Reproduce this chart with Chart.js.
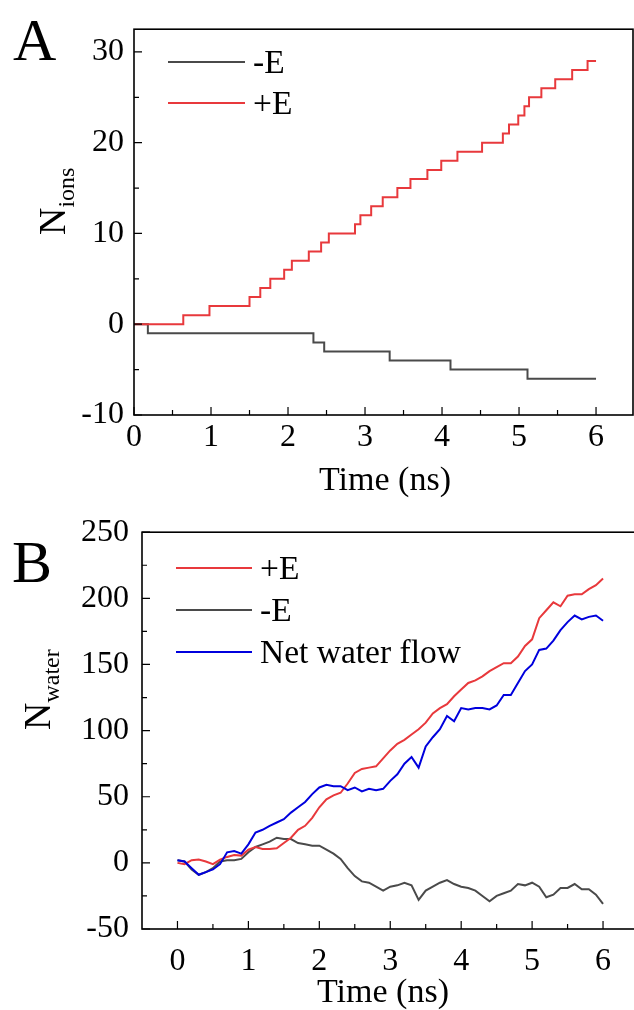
<!DOCTYPE html>
<html>
<head>
<meta charset="utf-8">
<script src="https://cdn.jsdelivr.net/npm/chart.js@4"></script>
<style>
html, body { margin: 0; padding: 0; background: #fff; overflow: hidden; }
#wrap { position: relative; width: 634px; height: 1010px; overflow: hidden; }
canvas { position: absolute; left: 0; }
</style>
</head>
<body>
<div id="wrap">
  <canvas id="chartA" width="634" height="500" style="top:0px"></canvas>
  <canvas id="chartB" width="650" height="510" style="top:500px"></canvas>
</div>
<script>
// ---- panel A: ion count, step times (ns) and count after each step
var stepTimesMinus = [0, 0.18, 2.33, 2.47, 3.32, 4.11, 5.11, 6.0];
var ionsMinus = [0, -1, -2, -3, -4, -5, -6, -6];
var stepTimesPlus = [0, 0.64, 0.98, 1.50, 1.64, 1.77, 1.95, 2.05, 2.27, 2.43, 2.53,
    2.87, 2.94, 3.08, 3.23, 3.42, 3.59, 3.81, 3.99, 4.20, 4.52,
    4.79, 4.87, 4.99, 5.07, 5.13, 5.29, 5.47, 5.69, 5.89, 6.0];
var ionsPlus = [0, 1, 2, 3, 4, 5, 6, 7, 8, 9, 10,
    11, 12, 13, 14, 15, 16, 17, 18, 19, 20,
    21, 22, 23, 24, 25, 26, 27, 28, 29, 29];

// ---- panel B: water count, sampled every 0.1 ns
var timeB = [0, 0.1, 0.2, 0.3, 0.4, 0.5, 0.6, 0.7, 0.8, 0.9,
    1.0, 1.1, 1.2, 1.3, 1.4, 1.5, 1.6, 1.7, 1.8, 1.9,
    2.0, 2.1, 2.2, 2.3, 2.4, 2.5, 2.6, 2.7, 2.8, 2.9,
    3.0, 3.1, 3.2, 3.3, 3.4, 3.5, 3.6, 3.7, 3.8, 3.9,
    4.0, 4.1, 4.2, 4.3, 4.4, 4.5, 4.6, 4.7, 4.8, 4.9,
    5.0, 5.1, 5.2, 5.3, 5.4, 5.5, 5.6, 5.7, 5.8, 5.9, 6.0];
var waterPlus = [0, -1, 2, 2.5, 1, -1, 2.5, 4.5, 6, 5.5,
    10, 12, 10.5, 10.5, 11, 15, 19, 25, 28, 34,
    42, 48, 51, 53, 60, 68, 71, 72, 73, 79,
    85, 90, 93, 97, 101, 106, 113, 117, 120, 126,
    131, 136, 138, 141, 145, 148, 151, 151, 156, 164,
    169, 185, 191, 197, 194, 202, 203, 203, 207, 210, 215];
var waterMinus = [2, 1, -5, -9, -7, -4, 1, 2, 2, 3,
    8, 12, 14, 16, 19, 18, 18, 15, 14, 13,
    13, 10, 7, 3, -4, -10, -14, -15, -18, -21,
    -18, -17, -15, -17, -28, -21, -18, -15, -13, -16,
    -18, -19, -21, -25, -29, -25, -23, -21, -16, -17,
    -15, -18, -26, -24, -19, -19, -16, -20, -20, -24, -31];
var waterNet = [2, 1, -4, -9, -7, -5, -1, 8, 9, 7,
    14, 23, 25, 28, 30.5, 33, 38, 42, 46, 52,
    57, 59, 58, 58, 55, 57, 54, 56, 55, 56,
    62, 67, 75, 80, 72, 88, 95, 101, 111, 107,
    117, 116, 117, 117, 116, 119, 127, 127, 136, 145,
    150, 161, 162, 168, 176, 182, 187, 184, 186, 187, 183];

// axis ticks
var ticksAx = [0, 1, 2, 3, 4, 5, 6];
var minorAx = [0.5, 1.5, 2.5, 3.5, 4.5, 5.5];
var ticksAy = [-10, 0, 10, 20, 30];
var minorAy = [-5, 5, 15, 25];
var ticksBx = [0, 1, 2, 3, 4, 5, 6];
var minorBx = [0.5, 1.5, 2.5, 3.5, 4.5, 5.5];
var ticksBy = [-50, 0, 50, 100, 150, 200, 250];
var minorBy = [-25, 25, 75, 125, 175, 225];

var RED = '#e8393c', GRAY = '#4a4a4a', BLUE = '#0000dd';
var FONT = 'Liberation Serif';

function pts(xs, ys) {
    var out = [];
    for (var i = 0; i < xs.length; i++) out.push({x: xs[i], y: ys[i]});
    return out;
}

// frame, inward ticks, legend, axis titles and panel letter
var decor = {
    id: 'decor',
    afterDraw: function(chart, args, o) {
        var ctx = chart.ctx, a = chart.chartArea;
        var xs = chart.scales.x, ys = chart.scales.y;
        ctx.save();
        ctx.strokeStyle = '#000';
        ctx.lineWidth = 1.2;
        ctx.beginPath();
        o.xMajor.forEach(function(v) { var p = xs.getPixelForValue(v); ctx.moveTo(p, a.bottom); ctx.lineTo(p, a.bottom - 8); });
        o.xMinor.forEach(function(v) { var p = xs.getPixelForValue(v); ctx.moveTo(p, a.bottom); ctx.lineTo(p, a.bottom - 5); });
        o.yMajor.forEach(function(v) { var p = ys.getPixelForValue(v); ctx.moveTo(a.left, p); ctx.lineTo(a.left + 8, p); });
        o.yMinor.forEach(function(v) { var p = ys.getPixelForValue(v); ctx.moveTo(a.left, p); ctx.lineTo(a.left + 5, p); });
        ctx.stroke();
        ctx.lineWidth = 1.6;
        ctx.strokeRect(a.left, a.top, a.right - a.left, a.bottom - a.top);

        // legend
        var ds = chart.data.datasets;
        ctx.font = '33.5px "' + FONT + '"';
        ctx.textAlign = 'left';
        ctx.textBaseline = 'alphabetic';
        for (var i = 0; i < ds.length; i++) {
            var ly = o.legend.y[i];
            ctx.strokeStyle = ds[i].borderColor;
            ctx.lineWidth = 2;
            ctx.beginPath();
            ctx.moveTo(o.legend.x1, ly);
            ctx.lineTo(o.legend.x2, ly);
            ctx.stroke();
            ctx.fillStyle = '#000';
            ctx.fillText(ds[i].label, o.legend.tx, ly + 11);
        }

        // x title
        ctx.font = '34px "' + FONT + '"';
        ctx.textAlign = 'center';
        ctx.fillText('Time (ns)', o.xTitle.x, o.xTitle.y);

        // y title with subscript
        ctx.save();
        ctx.translate(o.yTitle.x, o.yTitle.y);
        ctx.rotate(-Math.PI / 2);
        ctx.textAlign = 'left';
        ctx.font = '38px "' + FONT + '"';
        ctx.fillText('N', 0, 0);
        var w = ctx.measureText('N').width;
        ctx.font = '24px "' + FONT + '"';
        ctx.fillText(o.yTitle.sub, w, 9);
        ctx.restore();

        // panel letter
        ctx.font = '60px "' + FONT + '"';
        ctx.textAlign = 'left';
        ctx.fillText(o.letter.text, o.letter.x, o.letter.y);
        ctx.restore();
    }
};

function fixTicks(list) {
    return function(scale) { scale.ticks = list.map(function(v) { return {value: v}; }); };
}

function makeOptions(cfg) {
    return {
        responsive: false,
        animation: false,
        layout: { padding: { top: cfg.padTop, right: cfg.padRight, left: 0, bottom: 0 } },
        plugins: {
            legend: { display: false },
            tooltip: { enabled: false },
            decor: cfg.decor
        },
        elements: { point: { radius: 0 }, line: { tension: 0 } },
        scales: {
            x: {
                type: 'linear', min: cfg.xMin, max: cfg.xMax,
                grid: { display: false, drawTicks: false },
                border: { display: false },
                afterBuildTicks: fixTicks(cfg.xTicks),
                afterFit: function(s) { s.height = cfg.xHeight; },
                ticks: { color: '#000', padding: cfg.xPad, maxRotation: 0, font: { family: FONT, size: 32 } }
            },
            y: {
                type: 'linear', min: cfg.yMin, max: cfg.yMax,
                grid: { display: false, drawTicks: false },
                border: { display: false },
                afterBuildTicks: fixTicks(cfg.yTicks),
                afterFit: function(s) { s.width = cfg.yWidth; },
                ticks: { color: '#000', padding: cfg.yPad, font: { family: FONT, size: 32 } }
            }
        }
    };
}

new Chart(document.getElementById('chartA'), {
    type: 'line',
    data: {
        datasets: [
            { label: '-E', data: pts(stepTimesMinus, ionsMinus), borderColor: GRAY, borderWidth: 2, stepped: true, order: 2 },
            { label: '+E', data: pts(stepTimesPlus, ionsPlus), borderColor: RED, borderWidth: 2, stepped: true, order: 1 }
        ]
    },
    options: makeOptions({
        padTop: 13, padRight: 1, xHeight: 85, yWidth: 134,
        xMin: 0, xMax: 6.48, yMin: -10, yMax: 32.5,
        xTicks: ticksAx, yTicks: ticksAy, xPad: 3, yPad: 10,
        decor: {
            xMajor: ticksAx, xMinor: minorAx, yMajor: ticksAy, yMinor: minorAy,
            legend: { x1: 168, x2: 245, tx: 253, y: [62, 103] },
            xTitle: { x: 385, y: 490 },
            yTitle: { x: 65, y: 235, sub: 'ions' },
            letter: { text: 'A', x: 13, y: 60 }
        }
    }),
    plugins: [decor]
});

new Chart(document.getElementById('chartB'), {
    type: 'line',
    data: {
        datasets: [
            { label: '+E', data: pts(timeB, waterPlus), borderColor: RED, borderWidth: 2, order: 2 },
            { label: '-E', data: pts(timeB, waterMinus), borderColor: GRAY, borderWidth: 2, order: 3 },
            { label: 'Net water flow', data: pts(timeB, waterNet), borderColor: BLUE, borderWidth: 2, order: 1 }
        ]
    },
    options: makeOptions({
        padTop: 29, padRight: 11.5, xHeight: 81, yWidth: 142,
        xMin: -0.5, xMax: 6.5, yMin: -50, yMax: 250,
        xTicks: ticksBx, yTicks: ticksBy, xPad: 13, yPad: 13,
        decor: {
            xMajor: ticksBx, xMinor: minorBx, yMajor: ticksBy, yMinor: minorBy,
            legend: { x1: 176, x2: 252, tx: 260, y: [68, 110, 152] },
            xTitle: { x: 383, y: 502 },
            yTitle: { x: 50, y: 230, sub: 'water' },
            letter: { text: 'B', x: 12, y: 82 }
        }
    }),
    plugins: [decor]
});
</script>
</body>
</html>
